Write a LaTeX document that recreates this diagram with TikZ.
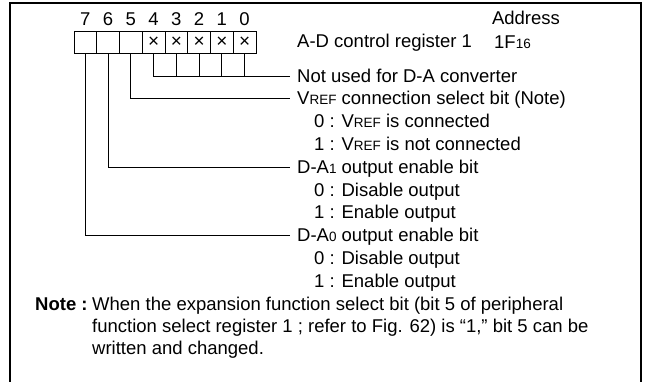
\documentclass[tikz,border=0pt]{standalone}
\usepackage{fontspec}
\setmainfont{Liberation Sans}
\newcommand{\sm}[1]{{\fontsize{13.5}{13.5}\selectfont #1}}
\tikzset{
    txt/.style={inner sep=0pt, text height=13pt, text depth=0pt, font=\fontsize{18.5}{22}\selectfont},
    lbl/.style={txt, anchor=west},
    bitcell/.style={draw, line width=0.8pt, minimum width=22.75pt, minimum height=22pt, inner sep=0pt, font=\fontsize{19}{19}\selectfont},
    wire/.style={line width=0.8pt},
}
\begin{document}
\begin{tikzpicture}[x=1pt, y=-1pt]
    \useasboundingbox (0,0) rectangle (648,382);
    % Frame
    \draw[line width=2pt] (10,382) -- (10,3) -- (641,3) -- (641,382);

    % Register cells and bit numbers
    \foreach \i/\m in {7/,6/,5/,4/×,3/×,2/×,1/×,0/×} {
        \pgfmathsetmacro{\cx}{74+22.75*(7-\i)+11.375}
        \node[bitcell] (b\i) at (\cx,42) {\m};
        \node[txt] (n\i) at (\cx,19) {\i};
    }

    % Header
    \node[txt] (addr) at (526,18) {Address};
    \node[lbl] (regname) at (297,41) {A-D control register 1};
    \node[lbl] (regaddr) at (494,42) {1F\sm{16}};

    % Bit descriptions
    \node[lbl] (notused) at (297,76) {Not used for D-A converter};
    \node[lbl] (vref) at (297,98) {V\sm{REF} connection select bit (Note)};
    \node[lbl] (vref0) at (314,121) {0 : V\sm{REF} is connected};
    \node[lbl] (vref1) at (314,144) {1 : V\sm{REF} is not connected};
    \node[lbl] (da1) at (297,167) {D-A\sm{1} output enable bit};
    \node[lbl] (da1z) at (314,190) {0 : Disable output};
    \node[lbl] (da1o) at (314,212) {1 : Enable output};
    \node[lbl] (da0) at (297,235) {D-A\sm{0} output enable bit};
    \node[lbl] (da0z) at (314,258) {0 : Disable output};
    \node[lbl] (da0o) at (314,281) {1 : Enable output};

    % Connectors
    \draw[wire] (b4.south) |- ([xshift=-7pt]notused.west);
    \foreach \i in {3,2,1,0} {
        \draw[wire] (b\i.south) -- (b\i.south |- notused.west);
    }
    \draw[wire] (b5.south) |- ([xshift=-7pt]vref.west);
    \draw[wire] (b6.south) |- ([xshift=-7pt]da1.west);
    \draw[wire] (b7.south) |- ([xshift=-7pt]da0.west);

    % Note
    \node[lbl, font=\fontsize{18.5}{22}\bfseries] (notehd) at (35,304) {Note :};
    \node[lbl] (note1) at (92,304) {When the expansion function select bit (bit 5 of peripheral};
    \node[lbl] (note2) at (92,326) {function select register 1 ; refer to Fig. 62) is “1,” bit 5 can be};
    \node[lbl] (note3) at (92,348) {written and changed.};
\end{tikzpicture}
\end{document}
